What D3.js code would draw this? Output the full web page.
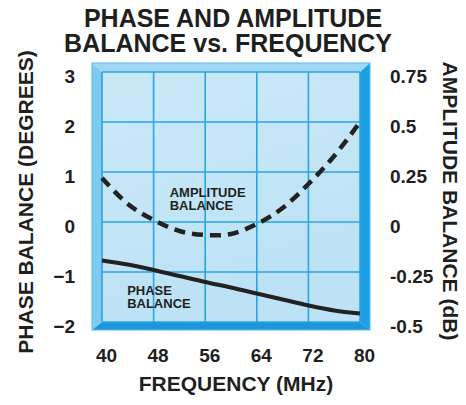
<!DOCTYPE html>
<html>
<head>
<meta charset="utf-8">
<script src="https://cdn.jsdelivr.net/npm/d3@7"></script>
<style>
  html, body { margin: 0; padding: 0; background: #ffffff; }
  svg text { font-family: "Liberation Sans", Arial, Helvetica, sans-serif; font-weight: bold; fill: #1f1f1f; }
</style>
</head>
<body>
<svg id="chart" width="466" height="405"></svg>
<script>
// ---- data ----
const frequencies = [40, 44, 48, 52, 56, 60, 64, 68, 72, 76, 80];
const phaseBalance = [-0.77, -0.85, -0.96, -1.08, -1.20, -1.31, -1.43, -1.55, -1.67, -1.77, -1.83];
const amplitudeBalance = [0.22, 0.09, 0.01, -0.045, -0.065, -0.06, -0.01, 0.07, 0.19, 0.33, 0.5];
const xTicks = [40, 48, 56, 64, 72, 80];
const phaseTicks = [3, 2, 1, 0, -1, -2];
const ampTicks = [0.75, 0.5, 0.25, 0, -0.25, -0.5];
const ampTickLabels = ["0.75", "0.5", "0.25", "0", "-0.25", "-0.5"];
const titleLines = ["PHASE AND AMPLITUDE", "BALANCE vs. FREQUENCY"];

const svg = d3.select("#chart");
const inner = { left: 102, right: 360, top: 72, bottom: 322 };
const bevel = { l: 10, r: 10, t: 9, b: 8 };

const x = d3.scaleLinear().domain([40, 80]).range([inner.left, inner.right]);
const yP = d3.scaleLinear().domain([-2, 3]).range([inner.bottom, inner.top]);
const yA = d3.scaleLinear().domain([-0.5, 0.75]).range([inner.bottom, inner.top]);

// ---- frame with bevel ----
const o = { left: inner.left - bevel.l, right: inner.right + bevel.r, top: inner.top - bevel.t, bottom: inner.bottom + bevel.b };
const poly = (pts, fill) => svg.append("polygon").attr("points", pts.map(p => p.join(",")).join(" ")).attr("fill", fill);
poly([[o.left, o.top], [o.right, o.top], [inner.right, inner.top], [inner.left, inner.top]], "#9ed8f4");
poly([[o.left, o.top], [inner.left, inner.top], [inner.left, inner.bottom], [o.left, o.bottom]], "#7fcbef");
poly([[o.right, o.top], [o.right, o.bottom], [inner.right, inner.bottom], [inner.right, inner.top]], "#1d9fe2");
poly([[o.left, o.bottom], [inner.left, inner.bottom], [inner.right, inner.bottom], [o.right, o.bottom]], "#1b98dc");
svg.append("rect").attr("x", o.left).attr("y", o.top).attr("width", o.right - o.left).attr("height", o.bottom - o.top)
  .attr("fill", "none").attr("stroke", "#5cbdec").attr("stroke-width", 1);

// interior
const defs = svg.append("defs");
const grad = defs.append("linearGradient").attr("id", "bg").attr("x1", 0).attr("y1", 0).attr("x2", 0.3).attr("y2", 1);
grad.append("stop").attr("offset", "0%").attr("stop-color", "#c9e9f8");
grad.append("stop").attr("offset", "100%").attr("stop-color", "#bde2f5");
svg.append("rect").attr("x", inner.left).attr("y", inner.top)
  .attr("width", inner.right - inner.left).attr("height", inner.bottom - inner.top)
  .attr("fill", "url(#bg)");

// grid
const grid = svg.append("g").attr("stroke", "#2ba4e2").attr("stroke-width", 1.6);
xTicks.forEach(t => grid.append("line").attr("x1", x(t)).attr("x2", x(t)).attr("y1", inner.top).attr("y2", inner.bottom));
phaseTicks.forEach(t => grid.append("line").attr("y1", yP(t)).attr("y2", yP(t)).attr("x1", inner.left).attr("x2", inner.right));

// ---- curves ----
const lineP = d3.line().x((d, i) => x(frequencies[i])).y(d => yP(d)).curve(d3.curveCatmullRom);
const lineA = d3.line().x((d, i) => x(frequencies[i])).y(d => yA(d)).curve(d3.curveCatmullRom);
svg.append("path").attr("d", lineA(amplitudeBalance)).attr("fill", "none")
  .attr("stroke", "#222222").attr("stroke-width", 4.5).attr("stroke-dasharray", "11,7");
svg.append("path").attr("d", lineP(phaseBalance)).attr("fill", "none")
  .attr("stroke", "#222222").attr("stroke-width", 4);

// ---- annotations ----
const ann = svg.append("g").style("font-size", "13px");
ann.append("text").attr("x", x(50.5)).attr("y", yA(0.125)).text("AMPLITUDE");
ann.append("text").attr("x", x(50.5)).attr("y", yA(0.125) + 13).text("BALANCE");
ann.append("text").attr("x", x(43.9)).attr("y", yP(-1.46)).text("PHASE");
ann.append("text").attr("x", x(43.9)).attr("y", yP(-1.46) + 13).text("BALANCE");

// ---- axes ----
const axB = svg.append("g").attr("transform", `translate(0,${inner.bottom})`)
  .call(d3.axisBottom(x).tickValues(xTicks).tickSize(0).tickFormat(d3.format("d")));
axB.select(".domain").remove();
axB.selectAll("text").attr("y", 40).attr("dy", 0).attr("dx", 4).style("font-size", "19px")
  .style("font-family", "'Liberation Sans', Arial, sans-serif").style("font-weight", "bold").attr("fill", "#1f1f1f");

const axL = svg.append("g").attr("transform", `translate(${inner.left},0)`)
  .call(d3.axisLeft(yP).tickValues(phaseTicks).tickSize(0).tickFormat(d3.format("d")));
axL.select(".domain").remove();
axL.selectAll("text").attr("x", -27).attr("dy", 10).style("font-size", "19px")
  .style("font-family", "'Liberation Sans', Arial, sans-serif").style("font-weight", "bold").attr("fill", "#1f1f1f");

const axR = svg.append("g").attr("transform", `translate(${inner.right},0)`)
  .call(d3.axisRight(yA).tickValues(ampTicks).tickSize(0).tickFormat((d, i) => ampTickLabels[i]));
axR.select(".domain").remove();
axR.selectAll("text").attr("x", 30).attr("dy", 10).style("font-size", "19px")
  .style("font-family", "'Liberation Sans', Arial, sans-serif").style("font-weight", "bold").attr("fill", "#1f1f1f");

// ---- titles ----
svg.append("text").attr("x", 233).attr("y", 27).attr("text-anchor", "middle").style("font-size", "25px").text(titleLines[0]);
svg.append("text").attr("x", 228).attr("y", 52).attr("text-anchor", "middle").style("font-size", "25px").text(titleLines[1]);
svg.append("text").attr("x", 236).attr("y", 391).attr("text-anchor", "middle").style("font-size", "21px").text("FREQUENCY (MHz)");
svg.append("text").attr("transform", "translate(33,202) rotate(-90)").attr("text-anchor", "middle").style("font-size", "21px").text("PHASE BALANCE (DEGREES)");
svg.append("text").attr("transform", "translate(443,201) rotate(90)").attr("text-anchor", "middle").style("font-size", "21px").text("AMPLITUDE BALANCE (dB)");
</script>
</body>
</html>
